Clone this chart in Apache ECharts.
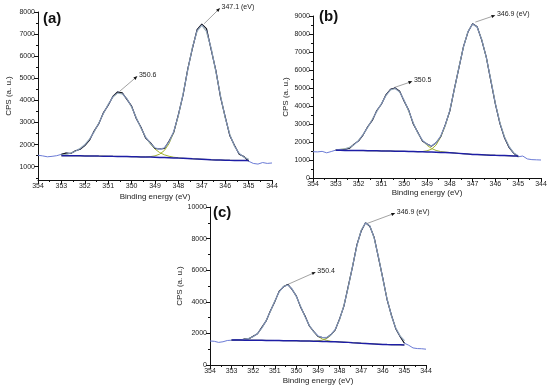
<!DOCTYPE html>
<html><head><meta charset="utf-8">
<script src="https://cdn.jsdelivr.net/npm/echarts@6/dist/echarts.min.js"></script>
<style>html,body{margin:0;padding:0;background:#fff}#c{width:550px;height:388px}</style>
</head><body><div id="c"></div>
<script>
// ---------- DATA ----------
const energy = [354.0,353.8,353.6,353.4,353.2,353.0,352.8,352.6,352.4,352.2,352.0,351.8,351.6,351.4,351.2,351.0,350.8,350.6,350.4,350.2,350.0,349.8,349.6,349.4,349.2,349.0,348.8,348.6,348.4,348.2,348.0,347.8,347.6,347.4,347.2,347.0,346.8,346.6,346.4,346.2,346.0,345.8,345.6,345.4,345.2,345.0,344.8,344.6,344.4,344.2,344.0];
const fitEnergy = [353.0,352.8,352.6,352.4,352.2,352.0,351.8,351.6,351.4,351.2,351.0,350.8,350.6,350.4,350.2,350.0,349.8,349.6,349.4,349.2,349.0,348.8,348.6,348.4,348.2,348.0,347.8,347.6,347.4,347.2,347.0,346.8,346.6,346.4,346.2,346.0,345.8,345.6,345.4,345.2,345.0];

// panel (a)
const rawA = [1520,1490,1450,1470,1500, 1560,1620,1600,1720,1790, 1960,2200,2620,2950,3450, 3780,4180,4380,4340,4050, 3740,3180,2790,2300,2090, 1830,1800,1830,2150,2560, 3360,4250,5420,6360,7200, 7450,7250,6300,5360,4150, 3260,2400,1960,1560,1460, 1250, 1150,1120,1190,1150,1170];
const envA = [1530,1560,1620,1700,1830,2000,2250,2580,2980,3420, 3820,4150,4330,4300,4080,3700,3220,2755,2345,2055, 1860,1785,1860,2110,2590,3325,4290,5385,6400,7140, 7400,7120,6360,5315,4206,3217,2450,1924,1605,1429, 1341];
const comp1A = [1530,1560,1620,1700,1830,2000,2250,2580,2980,3420, 3820,4150,4330,4300,4080,3700,3220,2750,2340,2030, 1800,1640,1540,1475,1430,1405,1382,1372,1360,1350, 1340,1330,1315,1305,1300,1295,1290,1287,1285,1282, 1280];
const comp2A = [1500,1498,1496,1494,1492,1490,1487,1485,1482,1480, 1475,1470,1467,1463,1460,1455,1450,1445,1443,1458, 1491,1569,1735,2045,2560,3312,4288,5382,6402,7138, 7400,7118,6357,5315,4206,3217,2450,1924,1605,1429, 1341];
const baseA = [1500,1498,1496,1494,1492,1490,1487,1485,1482,1480, 1475,1470,1467,1463,1460,1455,1450,1445,1440,1435, 1430,1422,1415,1408,1400,1390,1382,1372,1360,1350, 1340,1330,1315,1305,1300,1295,1290,1287,1285,1282, 1280];

// panel (b)
const rawB = [1460,1450,1480,1400,1470, 1550,1560,1600,1650,1880, 2060,2400,2850,3200,3750, 4100,4620,4930,5000,4820, 4260,3760,3000,2530,2060, 1890,1770,1960,2300,2950, 3720,4950,6120,7300,8120, 8570,8400,7660,6720,5400, 4100,3020,2230,1700,1380, 1180, 1220,1060,1020,1010,1000];
const envB = [1560,1590,1620,1700,1850,2090,2420,2810,3250,3700, 4130,4580,4900,4970,4780,4310,3720,3060,2490,2100, 1870,1790,1950,2330,2920,3760,4920,6150,7280,8150, 8550,8380,7700,6700,5450,4130,3060,2280,1750,1400, 1230];
const comp1B = [1560,1590,1620,1700,1850,2090,2420,2810,3250,3700, 4130,4580,4900,4970,4780,4300,3700,3050,2480,2090, 1820,1640,1530,1470,1440,1415,1385,1368,1350,1330, 1310,1300,1290,1280,1270,1260,1252,1244,1236,1228, 1220];
const comp2B = [1540,1537,1534,1531,1528,1525,1521,1517,1513,1509, 1505,1500,1495,1490,1485,1480,1474,1468,1462,1470, 1510,1600,1830,2280,2890,3745,4920,6150,7280,8150, 8550,8380,7700,6700,5450,4130,3060,2280,1750,1400, 1230];
const baseB = [1540,1537,1534,1531,1528,1525,1521,1517,1513,1509, 1505,1500,1495,1490,1485,1480,1474,1468,1462,1456, 1450,1441,1432,1423,1414,1400,1385,1368,1350,1330, 1310,1300,1290,1280,1270,1260,1252,1244,1236,1228, 1220];

// panel (c)
const rawC = [1520,1500,1430,1470,1550, 1570,1590,1580,1640,1660, 1820,1980,2380,2790,3440, 4010,4660,4950,5100,4780, 4360,3650,3100,2470,2130, 1810,1740,1720,1930,2230, 2920,3730,4980,6220,7600, 8480,9000,8780,8080,6790, 5500,4130,3150,2300,1800, 1380, 1250,1080,1040,1030,1000];
const envC = [1582,1584,1593,1619,1677,1794,2002,2336,2811,3404, 4045,4613,4982,5058,4820,4328,3697,3058,2510,2105, 1848,1729,1742,1907,2267,2878,3767,4935,6260,7546, 8530,8995,8816,8035,6836,5464,4175,3116,2346,1845, 1549];
const comp1C = [1582,1584,1593,1619,1677,1794,2002,2336,2811,3404, 4045,4613,4982,5058,4820,4328,3697,3058,2507,2093, 1816,1647,1553,1504,1479,1464,1447,1432,1415,1400, 1380,1365,1350,1335,1320,1300,1292,1285,1280,1275, 1270];
const comp2C = [1580,1578,1576,1574,1572,1570,1566,1562,1558,1554, 1550,1546,1542,1538,1534,1530,1524,1518,1515,1518, 1532,1574,1673,1879,2256,2874,3767,4935,6260,7546, 8530,8995,8816,8035,6836,5464,4175,3116,2346,1845, 1549];
const baseC = [1580,1578,1576,1574,1572,1570,1566,1562,1558,1554, 1550,1546,1542,1538,1534,1530,1524,1518,1512,1506, 1500,1492,1484,1476,1468,1460,1447,1432,1415,1400, 1380,1365,1350,1335,1320,1300,1292,1285,1280,1275, 1270];

const xTicks = [354,353,352,351,350,349,348,347,346,345,344];
const yTicksA = [1000,2000,3000,4000,5000,6000,7000,8000];
const yMinorA = [500,1500,2500,3500,4500,5500,6500,7500];
const tags = ['(a)','(b)','(c)'];
const peakLabels = [
  [{text:'350.6', from:[350.5,4420], to:[349.75,5100]}, {text:'347.1 (eV)', from:[346.9,7470], to:[346.22,8180]}],
  [{text:'350.5', from:[350.45,5020], to:[349.64,5370]}, {text:'346.9 (eV)', from:[346.88,8660], to:[346.0,9040]}],
  [{text:'350.4', from:[350.43,5080], to:[349.1,5886]}, {text:'346.9 (eV)', from:[346.76,8940], to:[345.42,9620]}]
];

// ---------- LAYOUT ----------
const FONT = '"Liberation Sans", Arial, sans-serif';
const panels = [
  {raw:rawA, env:envA, c1:comp1A, c2:comp2A, base:baseA, yMin:400, yMax:8000, yStep:null,
   grid:{left:38,top:12,width:234,height:168}, tag:[43,11], yNameGap:25, xNameGap:13},
  {raw:rawB, env:envB, c1:comp1B, c2:comp2B, base:baseB, yMin:0, yMax:9000, yStep:1000,
   grid:{left:313,top:16,width:228,height:162}, tag:[319,9], yNameGap:23, xNameGap:11},
  {raw:rawC, env:envC, c1:comp1C, c2:comp2C, base:baseC, yMin:0, yMax:10000, yStep:2000,
   grid:{left:210,top:207,width:216,height:158}, tag:[213,205], yNameGap:24, xNameGap:12}
];

const grids = [], xAxes = [], yAxes = [], series = [];
const pair = (xs, ys) => xs.map((x, k) => [x, ys[k]]);
const axisLine = {show:true, lineStyle:{color:'#111', width:1}};
const plain = v => String(v);

panels.forEach((p, i) => {
  grids.push(Object.assign({containLabel:false}, p.grid));
  xAxes.push({
    type:'value', gridIndex:i, min:344, max:354, interval:1, inverse:true,
    name:'Binding energy (eV)', nameLocation:'middle', nameGap:p.xNameGap,
    nameTextStyle:{fontFamily:FONT, fontSize:8, color:'#222'},
    axisLine, splitLine:{show:false},
    axisTick:{show:true, inside:false, length:4, lineStyle:{color:'#111'}},
    minorTick:{show:true, splitNumber:2, length:2, lineStyle:{color:'#111'}},
    axisLabel:{fontFamily:FONT, fontSize:7, color:'#222', margin:3, formatter:plain, showMinLabel:true, showMaxLabel:true}
  });
  const y = {
    type:'value', gridIndex:i, min:p.yMin, max:p.yMax,
    name:'CPS (a. u.)', nameLocation:'middle', nameGap:p.yNameGap, nameRotate:90,
    nameTextStyle:{fontFamily:FONT, fontSize:8, color:'#222'},
    axisLine, splitLine:{show:false},
    axisTick:{show:true, inside:false, length:4, lineStyle:{color:'#111'}},
    axisLabel:{fontFamily:FONT, fontSize:7, color:'#222', margin:3, formatter:plain}
  };
  if (p.yStep) {
    y.interval = p.yStep;
    y.minorTick = {show:true, splitNumber:2, length:2, lineStyle:{color:'#111'}};
  } else {
    y.axisLabel.customValues = yTicksA;
    y.axisTick.customValues = yTicksA;
  }
  yAxes.push(y);

  const raw = p.raw;
  series.push({type:'line', xAxisIndex:i, yAxisIndex:i, data:pair(energy, raw), showSymbol:false, symbol:'none',
    lineStyle:{color:'#6b7bd6', width:1}, silent:true, animation:false, z:2});
  series.push({type:'line', xAxisIndex:i, yAxisIndex:i, data:pair(fitEnergy, p.c1), showSymbol:false, symbol:'none',
    lineStyle:{color:'#a3b22c', width:1}, silent:true, animation:false, z:3});
  series.push({type:'line', xAxisIndex:i, yAxisIndex:i, data:pair(fitEnergy, p.c2), showSymbol:false, symbol:'none',
    lineStyle:{color:'#a3b22c', width:1}, silent:true, animation:false, z:3});
  series.push({type:'line', xAxisIndex:i, yAxisIndex:i, data:pair(fitEnergy, raw.slice(5,46)), showSymbol:false, symbol:'none',
    lineStyle:{color:'#151515', width:1.1}, silent:true, animation:false, z:4});
  series.push({type:'line', xAxisIndex:i, yAxisIndex:i, data:pair(fitEnergy, p.env), showSymbol:false, symbol:'none',
    lineStyle:{color:'#9fb4e8', width:1.3, opacity:0.75}, silent:true, animation:false, z:5});
  series.push({type:'line', xAxisIndex:i, yAxisIndex:i, data:pair(fitEnergy, p.base), showSymbol:false, symbol:'none',
    lineStyle:{color:'#1e1ea6', width:1.5}, silent:true, animation:false, z:6});
});
// minor tick helper axis for panel (a)
yAxes.push({type:'value', gridIndex:0, min:400, max:8000, position:'left',
  axisLine:{show:false}, splitLine:{show:false}, axisLabel:{show:false},
  axisTick:{show:true, length:2, customValues:yMinorA, lineStyle:{color:'#111'}}});

const chart = echarts.init(document.getElementById('c'), null, {renderer:'canvas'});
chart.setOption({backgroundColor:'#fff', animation:false, grid:grids, xAxis:xAxes, yAxis:yAxes, series});

// annotations (positions via the chart's own scales)
const graphic = [];
panels.forEach((p, i) => {
  graphic.push({type:'text', left:p.tag[0], top:p.tag[1], silent:true,
    style:{text:tags[i], font:'bold 15px ' + FONT, fill:'#111'}});
  peakLabels[i].forEach(a => {
    const s = chart.convertToPixel({gridIndex:i}, a.from);
    const e = chart.convertToPixel({gridIndex:i}, a.to);
    const dx = e[0]-s[0], dy = e[1]-s[1], L = Math.hypot(dx, dy);
    const ux = dx/L, uy = dy/L, hl = 4, hw = 1.6;
    const bx = e[0]-ux*hl, by = e[1]-uy*hl;
    graphic.push({type:'line', silent:true, shape:{x1:s[0], y1:s[1], x2:bx, y2:by},
      style:{stroke:'#8a8a8a', lineWidth:0.8}});
    graphic.push({type:'polygon', silent:true, shape:{points:[[e[0],e[1]],[bx-uy*hw, by+ux*hw],[bx+uy*hw, by-ux*hw]]},
      style:{fill:'#111'}});
    graphic.push({type:'text', silent:true, x:e[0]+1.5, y:e[1]-1,
      style:{text:a.text, font:'7px ' + FONT, fill:'#222', verticalAlign:'middle', align:'left'}});
  });
});
chart.setOption({graphic});
</script>
</body></html>
